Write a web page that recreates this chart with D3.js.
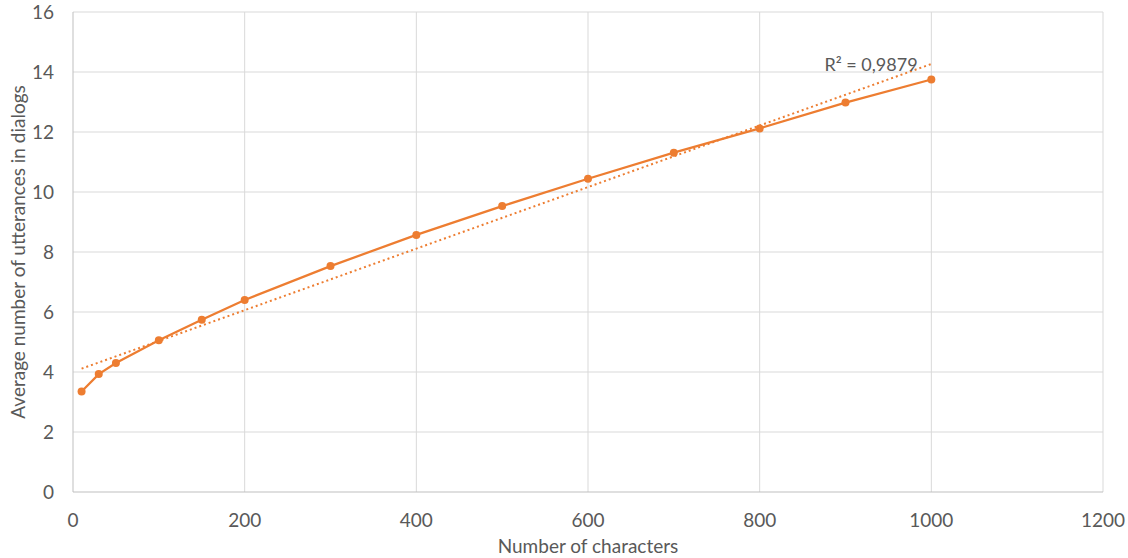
<!DOCTYPE html>
<html><head><meta charset="utf-8">
<script src="https://cdn.jsdelivr.net/npm/d3@7"></script>
<style>body{margin:0;background:#fff}svg{display:block}text{font-family:Lato,"Open Sans",sans-serif;fill:#595959}</style>
</head><body><svg id="c" width="1128" height="558"></svg>
<script>
const xValues = [10, 30, 50, 100, 150, 200, 300, 400, 500, 600, 700, 800, 900, 1000];
const yValues = [3.35, 3.93, 4.3, 5.06, 5.74, 6.4, 7.53, 8.57, 9.53, 10.44, 11.31, 12.12, 12.98, 13.75];
const xTicks = [0, 200, 400, 600, 800, 1000, 1200];
const yTicks = [0, 2, 4, 6, 8, 10, 12, 14, 16];
const r2Label = "R² = 0,9879";
const xTitle = "Number of characters";
const yTitle = "Average number of utterances in dialogs";

const svg = d3.select("#c");
const m = {l:73, r:1103, t:12, b:492};
const x = d3.scaleLinear().domain([0,1200]).range([m.l, m.r]);
const y = d3.scaleLinear().domain([0,16]).range([m.b, m.t]);
const color = "#ED7D31";

// grid
svg.append("g").selectAll("line").data(yTicks.filter(d=>d>0)).join("line")
  .attr("x1", m.l).attr("x2", m.r).attr("y1", d=>y(d)).attr("y2", d=>y(d))
  .attr("stroke", "#d9d9d9").attr("stroke-width", 1);
svg.append("g").selectAll("line").data(xTicks.filter(d=>d>0)).join("line")
  .attr("x1", d=>x(d)).attr("x2", d=>x(d)).attr("y1", m.t).attr("y2", m.b)
  .attr("stroke", "#d9d9d9").attr("stroke-width", 1);
// axes lines
svg.append("line").attr("x1", m.l).attr("x2", m.r).attr("y1", m.b).attr("y2", m.b).attr("stroke", "#bfbfbf");
svg.append("line").attr("x1", m.l).attr("x2", m.l).attr("y1", m.t).attr("y2", m.b).attr("stroke", "#bfbfbf");

// tick labels
svg.append("g").selectAll("text").data(xTicks).join("text")
  .attr("x", d=>x(d)).attr("y", 527).attr("text-anchor","middle").attr("font-size",19).text(d=>d);
svg.append("g").selectAll("text").data(yTicks).join("text")
  .attr("x", 54).attr("y", d=>y(d)+7).attr("text-anchor","end").attr("font-size",19).text(d=>d);

// titles
svg.append("text").attr("x", 588).attr("y", 553).attr("text-anchor","middle").attr("font-size",19).text(xTitle);
svg.append("text").attr("transform","translate(25,252) rotate(-90)").attr("text-anchor","middle").attr("font-size",19).text(yTitle);

// trendline (least squares)
const n = xValues.length;
const mx = d3.mean(xValues), my = d3.mean(yValues);
let sxy=0, sxx=0;
for (let i=0;i<n;i++){ sxy += (xValues[i]-mx)*(yValues[i]-my); sxx += (xValues[i]-mx)**2; }
const slope = sxy/sxx, icpt = my - slope*mx;
const x0 = d3.min(xValues), x1 = d3.max(xValues);
svg.append("line").attr("x1", x(x0)).attr("y1", y(icpt+slope*x0)).attr("x2", x(x1)).attr("y2", y(icpt+slope*x1))
  .attr("stroke", color).attr("stroke-width", 2).attr("stroke-dasharray","2,3");

// series line
const pts = xValues.map((d,i)=>[d, yValues[i]]);
svg.append("path").datum(pts).attr("fill","none").attr("stroke", color).attr("stroke-width", 2.25)
  .attr("d", d3.line().x(d=>x(d[0])).y(d=>y(d[1])));
svg.append("g").selectAll("circle").data(pts).join("circle")
  .attr("cx", d=>x(d[0])).attr("cy", d=>y(d[1])).attr("r", 4).attr("fill", color);

// R² label
svg.append("text").attr("x", 871).attr("y", 71).attr("text-anchor","middle").attr("font-size",18).text(r2Label);
</script></body></html>
